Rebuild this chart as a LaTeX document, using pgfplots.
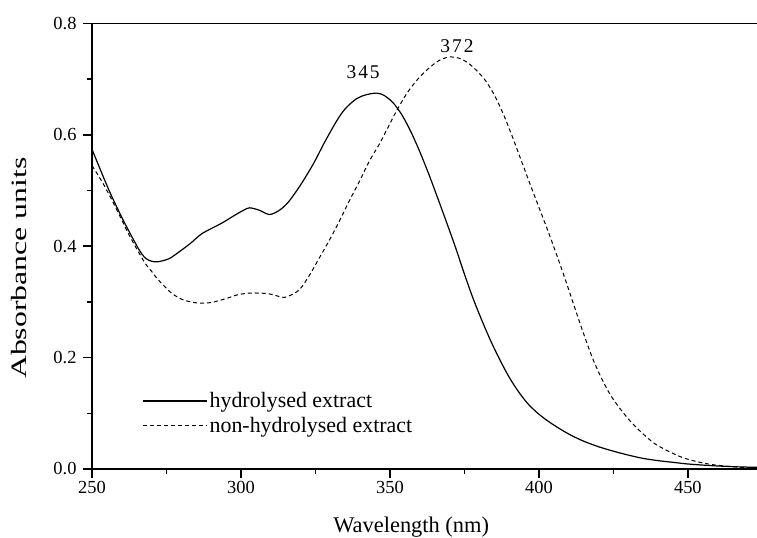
\documentclass[border=0pt]{standalone}
\usepackage{fontspec}
\setmainfont{Liberation Serif}
\usepackage{graphicx}
\usepackage{pgfplots}
\pgfplotsset{compat=1.18}
\newfontfamily\spacedfont[LetterSpace=10]{Liberation Serif}
\begin{document}
\begin{tikzpicture}
\begin{axis}[
  at={(0,0)}, anchor=south west,
  scale only axis,
  width=665bp, height=445.5bp,
  xmin=250, xmax=473.2,
  ymin=0, ymax=0.8,
  axis x line*=box,
  axis y line*=left,
  axis line style={-, line width=1.6bp},
  xtick={250,300,350,400,450},
  ytick={0,0.2,0.4,0.6,0.8},
  minor x tick num=1,
  minor y tick num=1,
  xtick pos=bottom,
  ytick pos=left,
  tick align=outside,
  major tick length=9bp,
  minor tick length=5bp,
  every tick/.style={black, line width=1.6bp},
  /pgf/number format/assume math mode=true,
  yticklabel style={xshift=-3bp, /pgf/number format/.cd, fixed, fixed zerofill, precision=1},
  ticklabel style={font=\fontsize{18.5}{22}\selectfont},
  xlabel={Wavelength (nm)},
  ylabel={\scalebox{1.45}[1]{Absorbance units}},
  xlabel style={font=\fontsize{22.5}{26}\selectfont, at={([yshift=-63bp]axis description cs:0.48,0)}, anchor=base},
  ylabel style={font=\fontsize{22}{26}\selectfont, at={([xshift=-65bp]axis description cs:0,0.451)}, anchor=base},
  legend style={draw=none, fill=none, at={(axis description cs:0.071,0.181)}, anchor=north west,
    font=\fontsize{22}{25}\selectfont, row sep=4bp},
  legend cell align=left,
  legend image code/.code={\draw[#1] (0bp,0bp) -- (60bp,0bp); \path (0bp,0bp) -- (64bp,0bp);},
  clip=true,
]
\addplot[black, line width=1.2bp, smooth, tension=0.5] coordinates {
(250,0.574) (252,0.548) (254,0.522) (256,0.497) (258,0.474) (260,0.452)
(262,0.431) (264,0.411) (266,0.392) (267.5,0.381) (269,0.375) (271,0.372)
(273,0.373) (276,0.378) (279,0.389) (283,0.405) (287,0.423) (293.4,0.441)
(298,0.456) (301,0.465) (302.9,0.469) (306,0.465) (309.6,0.457) (313,0.465)
(316,0.480) (320,0.510) (324.3,0.548) (328,0.586) (332,0.624) (335,0.647)
(338.8,0.665) (342,0.672) (345.5,0.675) (348,0.671) (351,0.658) (354,0.636)
(357,0.606) (360,0.570) (363,0.530) (366,0.487) (369,0.443) (372,0.398)
(375,0.350) (378,0.305) (381,0.265) (384,0.228) (387,0.195) (390,0.165)
(393,0.140) (396,0.119) (399,0.103) (402,0.090) (405,0.079) (408,0.069)
(411,0.060) (415,0.050) (420,0.040) (425,0.032) (430,0.025) (435,0.019)
(440,0.015) (445,0.012) (450,0.009) (458,0.006) (466,0.004) (473.2,0.003)
};
\addlegendentry{hydrolysed extract}
\addplot[black, line width=1bp, dash pattern=on 4bp off 3bp, smooth, tension=0.5] coordinates {
(250,0.545) (252,0.528) (254,0.510) (256,0.490) (258,0.469) (260,0.447)
(262,0.425) (264,0.405) (266,0.386) (268,0.368) (270,0.355) (272,0.341)
(274,0.330) (276,0.319) (278,0.311) (281,0.303) (285.6,0.298) (290,0.299)
(295,0.306) (299,0.313) (303.5,0.316) (309,0.315) (312,0.311) (314.5,0.308)
(317,0.313) (319.8,0.323) (323,0.348) (326.5,0.381) (330,0.414) (333.2,0.447)
(336.5,0.483) (339.9,0.518) (343,0.552) (346.6,0.585) (349.5,0.615) (352.2,0.643)
(356,0.677) (360,0.704) (364,0.724) (367,0.735) (370.1,0.740) (373,0.738)
(376,0.730) (379,0.716) (382,0.698) (385,0.672) (388,0.638) (391,0.598)
(394,0.555) (397,0.512) (400,0.470) (403,0.428) (406,0.384) (409,0.338)
(412,0.290) (415,0.243) (418,0.199) (421,0.163) (424,0.133) (427,0.110)
(430,0.090) (433,0.073) (436,0.058) (439,0.045) (442,0.036) (445,0.028)
(448,0.021) (451,0.016) (454,0.012) (458,0.008) (463,0.005) (468,0.003)
(473.2,0.002)
};
\addlegendentry{non-hydrolysed extract}
\node[font=\spacedfont\fontsize{19.5}{22}\selectfont] at (axis cs:341,0.712) {345};
\node[font=\spacedfont\fontsize{19.5}{22}\selectfont] at (axis cs:372.5,0.759) {372};
\end{axis}
\pgfresetboundingbox
\path[use as bounding box] ([shift={(-92bp,-69bp)}]current axis.south west) rectangle ([shift={(0bp,23.5bp)}]current axis.north east);
\end{tikzpicture}
\end{document}
